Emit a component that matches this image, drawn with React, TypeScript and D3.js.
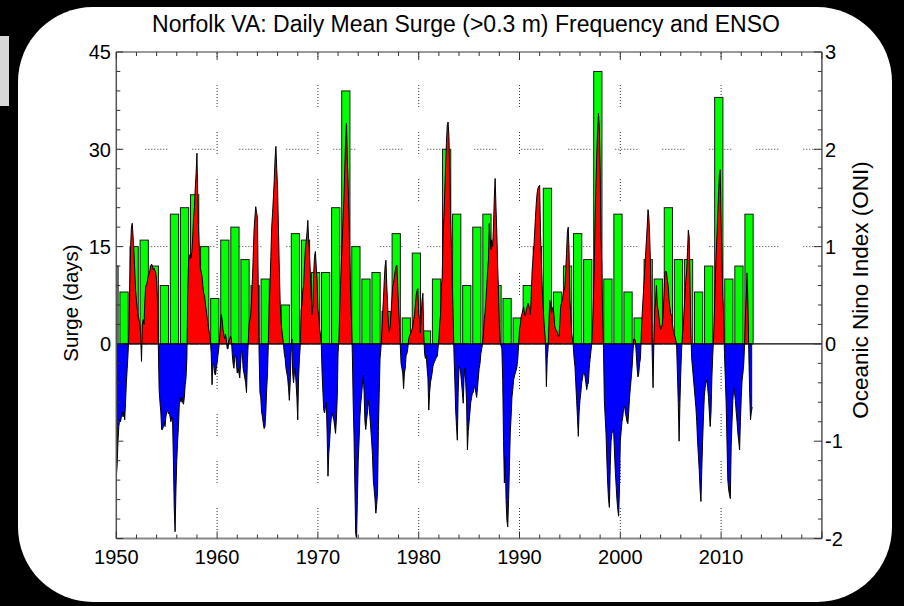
import React from 'react';
import * as d3 from 'd3';

// Annual surge days (>0.3 m daily mean), one bar per year
const surgeFirstYear = 1950;
const surgeDays = [
  12, 8, 15, 16, 12, 9, 20, 21, 23, 15,
  7, 16, 18, 13, 9, 10, 7, 6, 17, 16,
  11, 11, 21, 39, 15, 10, 11, 5, 17, 4,
  14, 2, 10, 30, 20, 9, 18, 20, 9, 7,
  4, 9, 15, 24, 8, 12, 17, 13, 42, 10,
  20, 8, 4, 13, 10, 21, 13, 13, 8, 12,
  38, 10, 12, 20,
];

// Monthly ONI values, starting January 1950
const oniStartYear = 1950;
const oni1950s = [
  -1.36, -1.25, -1.0, -0.85, -0.78, -0.8, -0.75, -0.7, -0.75, -0.7, -0.78, -0.6,
  -0.4, -0.25, -0.1, 0.1, 0.6, 1.0, 1.2, 1.24, 1.1, 0.95, 0.75, 0.55,
  0.45, 0.35, 0.28, 0.25, 0.2, 0.1, -0.18, 0.2, 0.25, 0.2, 0.45, 0.6,
  0.6, 0.65, 0.7, 0.72, 0.75, 0.8, 0.82, 0.8, 0.76, 0.78, 0.75, 0.73,
  0.65, 0.45, 0.0, -0.47, -0.6, -0.7, -0.88, -0.88, -0.85, -0.8, -0.85, -0.75,
  -0.7, -0.68, -0.72, -0.7, -0.75, -0.8, -0.75, -0.8, -1.2, -1.7, -1.93, -1.5,
  -1.2, -1.0, -0.85, -0.62, -0.55, -0.6, -0.55, -0.6, -0.62, -0.55, -0.42, -0.35,
  -0.15, 0.5, 0.85, 0.9, 0.92, 0.88, 0.95, 1.1, 1.3, 1.4, 1.6, 1.75,
  1.96, 1.5, 1.15, 0.95, 0.78, 0.74, 0.7, 0.6, 0.52, 0.5, 0.42, 0.35,
  0.28, 0.22, 0.15, 0.1, 0.03, -0.1, -0.42, -0.2, -0.22, -0.3, -0.32, -0.25,
];
const oni1960s = [
  -0.2, -0.12, -0.05, 0.05, 0.2, 0.3, 0.25, 0.15, 0.1, 0.05, 0.1, 0.05,
  -0.05, -0.05, 0.03, 0.05, 0.08, 0.05, -0.1, -0.2, -0.25, -0.15, -0.1, -0.2,
  -0.3, -0.25, -0.3, -0.35, -0.2, -0.05, -0.1, -0.25, -0.3, -0.35, -0.4, -0.5,
  -0.2, 0.0, 0.2, 0.25, 0.3, 0.45, 0.66, 0.9, 1.17, 1.3, 1.41, 1.35,
  1.3, 0.6, -0.1, -0.5, -0.55, -0.7, -0.75, -0.82, -0.87, -0.85, -0.7, -0.47,
  -0.3, 0.0, 0.4, 0.6, 0.9, 1.2, 1.34, 1.5, 1.68, 1.9, 2.03, 1.8,
  1.6, 1.2, 0.8, 0.45, 0.25, 0.15, 0.08, 0.0, -0.1, -0.15, -0.25, -0.3,
  -0.35, -0.45, -0.58, -0.4, -0.1, 0.05, -0.3, -0.4, -0.3, -0.25, -0.4, -0.55,
  -0.78, -0.35, -0.15, -0.02, 0.35, 0.4, 0.55, 0.6, 0.8, 0.97, 1.05, 1.14,
  1.27, 1.07, 0.9, 0.73, 0.5, 0.3, 0.4, 0.73, 0.9, 0.95, 0.8, 0.66,
];
const oni1970s = [
  0.35, 0.3, 0.15, 0.1, 0.0, -0.3, -0.5, -0.68, -0.71, -0.65, -0.6, -0.92,
  -1.36, -1.12, -1.0, -0.85, -0.75, -0.71, -0.75, -0.78, -0.85, -0.92, -0.78, -0.55,
  -0.1, 0.05, 0.35, 0.6, 0.85, 1.07, 1.3, 1.5, 1.8, 2.1, 2.27, 1.9,
  1.65, 1.3, 0.9, 0.5, 0.2, -0.1, -0.6, -0.95, -1.45, -1.95, -2.0, -1.6,
  -1.2, -1.0, -0.75, -0.62, -0.52, -0.42, -0.32, -0.5, -0.8, -0.88, -0.78, -0.7,
  -0.58, -0.65, -0.75, -0.88, -1.0, -1.15, -1.4, -1.5, -1.6, -1.74, -1.65, -1.53,
  -0.9, -0.5, -0.15, -0.05, 0.1, 0.3, 0.45, 0.65, 0.8, 0.86, 0.6, 0.4,
  0.2, 0.12, 0.18, 0.3, 0.45, 0.59, 0.62, 0.69, 0.75, 0.8, 0.81, 0.59,
  0.38, 0.2, 0.0, -0.2, -0.25, -0.3, -0.46, -0.3, -0.25, -0.12, -0.1, -0.05,
  0.04, 0.08, 0.1, 0.12, 0.15, 0.18, 0.25, 0.3, 0.4, 0.5, 0.55, 0.57,
];
const oni1980s = [
  0.31, 0.25, 0.11, 0.31, 0.45, 0.52, 0.1, -0.1, -0.15, -0.12, -0.25, -0.35,
  -0.68, -0.5, -0.4, -0.35, -0.3, -0.23, -0.2, -0.18, -0.16, -0.14, -0.13, -0.05,
  0.05, 0.2, 0.3, 0.59, 0.69, 1.1, 1.31, 1.55, 1.82, 2.06, 2.25, 2.28,
  2.13, 1.72, 1.31, 0.97, 0.62, 0.3, -0.1, -0.37, -0.68, -0.85, -0.99, -0.5,
  -0.23, -0.25, -0.3, -0.4, -0.5, -0.61, -0.35, -0.25, -0.4, -0.6, -1.09, -0.9,
  -0.8, -0.7, -0.6, -0.55, -0.5, -0.5, -0.45, -0.44, -0.5, -0.55, -0.45, -0.35,
  -0.25, -0.2, -0.1, -0.05, 0.0, 0.1, 0.25, 0.32, 0.45, 0.59, 0.75, 0.86,
  1.24, 1.1, 0.97, 1.07, 1.0, 1.2, 1.5, 1.7, 1.41, 1.14, 0.8, 0.55,
  0.2, 0.02, -0.02, -0.05, -0.37, -0.99, -1.43, -1.16, -1.6, -1.81, -1.88, -1.6,
  -1.26, -0.92, -0.75, -0.55, -0.47, -0.37, -0.33, -0.3, -0.27, -0.23, -0.15, 0.0,
];
const oni1990s = [
  0.15, 0.2, 0.28, 0.31, 0.35, 0.38, 0.3, 0.28, 0.35, 0.38, 0.42, 0.4,
  0.35, 0.3, 0.49, 0.75, 0.86, 0.97, 1.14, 1.3, 1.45, 1.55, 1.6, 1.62,
  1.63, 1.14, 0.85, 0.6, 0.4, 0.25, 0.12, 0.02, -0.44, -0.15, -0.05, 0.2,
  0.45, 0.4, 0.31, 0.35, 0.38, 0.3, 0.18, 0.15, 0.14, 0.12, 0.08, 0.08,
  0.2, 0.38, 0.42, 0.45, 0.52, 0.55, 0.59, 0.75, 0.93, 1.15, 1.2, 0.95,
  0.45, 0.3, 0.11, 0.05, -0.02, -0.15, -0.23, -0.4, -0.58, -0.75, -0.95, -0.7,
  -0.58, -0.5, -0.4, -0.35, -0.3, -0.3, -0.33, -0.4, -0.47, -0.42, -0.4, -0.25,
  -0.16, -0.08, 0.0, 0.18, 0.45, 0.8, 1.3, 1.65, 1.95, 2.2, 2.37, 2.23,
  1.82, 1.1, 0.79, 0.28, -0.05, -0.58, -0.75, -0.92, -1.2, -1.43, -1.6, -1.68,
  -1.26, -1.0, -0.92, -0.9, -0.88, -1.09, -1.3, -1.45, -1.6, -1.7, -1.77, -1.5,
];
const oni2000s = [
  -1.0, -0.9, -0.8, -0.75, -0.65, -0.64, -0.7, -0.75, -0.8, -0.82, -0.7, -0.55,
  -0.45, -0.35, -0.25, -0.1, 0.05, 0.05, 0.03, -0.1, -0.25, -0.34, -0.3, -0.2,
  -0.15, 0.1, 0.3, 0.45, 0.6, 0.75, 0.9, 1.05, 1.2, 1.38, 1.3, 1.1,
  0.8, 0.3, -0.1, -0.45, 0.05, 0.35, 0.45, 0.6, 0.4, 0.35, 0.28, 0.2,
  0.15, 0.17, 0.2, 0.3, 0.5, 0.73, 0.75, 0.74, 0.65, 0.6, 0.45, 0.38,
  0.3, 0.3, 0.2, 0.15, 0.1, 0.08, 0.04, 0.0, -0.3, -0.6, -1.0, -0.6,
  -0.3, -0.05, 0.1, 0.18, 0.35, 0.49, 0.65, 0.75, 0.95, 1.17, 1.1, 0.6,
  0.1, -0.15, -0.25, -0.35, -0.45, -0.55, -0.65, -0.8, -1.0, -1.15, -1.3, -1.5,
  -1.62, -1.3, -1.0, -0.75, -0.54, -0.45, -0.4, -0.37, -0.45, -0.55, -0.7, -0.85,
  -0.7, -0.35, -0.13, 0.05, 0.32, 0.6, 0.9, 1.1, 1.34, 1.55, 1.75, 1.79,
];
const oni2010s = [
  1.25, 0.9, 0.5, 0.3, -0.1, -0.35, -0.6, -1.0, -1.4, -1.5, -1.55, -1.59,
  -1.05, -0.8, -0.58, -0.45, -0.5, -0.58, -0.7, -0.8, -0.92, -1.0, -1.09, -0.8,
  -0.55, -0.37, -0.3, -0.2, 0.0, 0.3, 0.5, 0.73, 0.4, -0.1, -0.5, -0.78,
  -0.7, -0.65,
];

const leftTickLabels = [0, 15, 30, 45];
const rightTickLabels = [-2, -1, 0, 1, 2, 3];
const decadeLabels = [1950, 1960, 1970, 1980, 1990, 2000, 2010];
const gridDays = [15, 30];
const titleText = 'Norfolk VA: Daily Mean Surge (>0.3 m) Frequency and ENSO';
const leftAxisTitle = 'Surge (days)';
const rightAxisTitle = 'Oceanic Nino Index (ONI)';

const W = 904;
const H = 606;
const PL = 116.3;
const PR = 821.9;
const PT = 52;
const PB = 538.5;
const FONT = "'Liberation Sans', Arial, Helvetica, sans-serif";
const GRID_DASH = '1,2,1,2,1,2,1,2,1,2,1,2,1,2,1,25';

export default function App() {
  const x = d3.scaleLinear().domain([1950, 2020]).range([PL, PR]);
  const yDays = d3.scaleLinear().domain([-30, 45]).range([PB, PT]);
  const yOni = d3.scaleLinear().domain([-2, 3]).range([PB, PT]);

  const oniValues = [...oni1950s, ...oni1960s, ...oni1970s, ...oni1980s, ...oni1990s, ...oni2000s, ...oni2010s];
  const oni = oniValues.map((v, i) => ({ t: oniStartYear + i / 12, v }));

  const area = d3
    .area<{ t: number; v: number }>()
    .x((d) => x(d.t))
    .y0(yOni(0))
    .y1((d) => yOni(d.v));
  const line = d3
    .line<{ t: number; v: number }>()
    .x((d) => x(d.t))
    .y((d) => yOni(d.v));

  const bars = surgeDays.map((v, i) => {
    const c = surgeFirstYear + i - 0.23;
    const x0 = x(c - 0.41);
    const x1 = x(c + 0.41);
    return { x0, x1, y: yDays(v), y0: yDays(0) };
  });

  const minorYears = d3.range(1950, 2021, 2);
  const minorDays = d3.range(-30, 46, 3);
  const minorOni = d3.range(-2, 3.001, 0.2);
  const zeroY = yOni(0);

  return (
    <div style={{ position: 'fixed', left: 0, top: 0, width: W, height: H, background: '#000', margin: 0 }}>
      <svg width={W} height={H} style={{ display: 'block' }}>
        <defs>
          <clipPath id="plotClip">
            <rect x={PL} y={PT} width={PR - PL} height={PB - PT} />
          </clipPath>
          <clipPath id="posClip">
            <rect x={PL} y={PT} width={PR - PL} height={zeroY - PT} />
          </clipPath>
          <clipPath id="negClip">
            <rect x={PL} y={zeroY} width={PR - PL} height={PB - zeroY} />
          </clipPath>
        </defs>
        <rect x={0} y={0} width={W} height={H} fill="#000" />
        <rect x={0} y={36} width={9} height={70} fill="#d8d8d8" />
        <rect x={18} y={7} width={874} height={595} rx={75} ry={75} fill="#fff" />

        {/* grid */}
        <g stroke="#333" strokeWidth={1} strokeDasharray={GRID_DASH} fill="none">
          {decadeLabels.slice(1).map((yr) => (
            <line key={'gv' + yr} x1={x(yr)} x2={x(yr)} y1={PT} y2={PB} strokeDashoffset={-33} />
          ))}
          {gridDays.map((d) => (
            <line key={'gh' + d} x1={PL} x2={PR} y1={yDays(d)} y2={yDays(d)} strokeDashoffset={-29} />
          ))}
        </g>

        {/* bars */}
        <g clipPath="url(#plotClip)">
          {bars.map((b, i) => (
            <rect
              key={'b' + i}
              x={b.x0}
              y={b.y}
              width={b.x1 - b.x0}
              height={b.y0 - b.y}
              fill="#00ff00"
              stroke="#1a1a1a"
              strokeWidth={1}
            />
          ))}
        </g>

        {/* ONI */}
        <g clipPath="url(#plotClip)">
          <path d={area(oni) || ''} fill="#ff0000" clipPath="url(#posClip)" />
          <path d={area(oni) || ''} fill="#0000ff" clipPath="url(#negClip)" />
          <path d={line(oni) || ''} fill="none" stroke="#000" strokeWidth={1} />
        </g>

        {/* zero line */}
        <line x1={PL} x2={PR} y1={zeroY} y2={zeroY} stroke="#000" strokeWidth={1.3} />

        {/* frame */}
        <g fill="none">
          <line x1={PL} x2={PR} y1={PT} y2={PT} stroke="#777" strokeWidth={1.5} />
          <line x1={PL} x2={PR} y1={PB} y2={PB} stroke="#888" strokeWidth={2} />
          <line x1={PL} x2={PL} y1={PT} y2={PB} stroke="#555" strokeWidth={1.5} />
          <line x1={PR} x2={PR} y1={PT} y2={PB} stroke="#555" strokeWidth={1.5} />
        </g>

        {/* ticks */}
        <g stroke="#333" strokeWidth={1}>
          {minorYears.map((yr) => {
            const major = yr % 10 === 0;
            const len = major ? 7 : 4;
            return (
              <g key={'tx' + yr}>
                <line x1={x(yr)} x2={x(yr)} y1={PT} y2={PT + len} />
                <line x1={x(yr)} x2={x(yr)} y1={PB} y2={PB - len} />
              </g>
            );
          })}
          {minorDays.map((d) => {
            const major = d % 15 === 0;
            return <line key={'tl' + d} x1={PL} x2={PL + (major ? 7 : 4)} y1={yDays(d)} y2={yDays(d)} />;
          })}
          {minorOni.map((v, i) => {
            const major = Math.abs(v - Math.round(v)) < 1e-6;
            return <line key={'tr' + i} x1={PR} x2={PR - (major ? 8 : 4)} y1={yOni(v)} y2={yOni(v)} />;
          })}
        </g>

        {/* labels */}
        <g fontFamily={FONT} fill="#000">
          <text x={466} y={32} fontSize={23} textAnchor="middle">
            {titleText}
          </text>
          {leftTickLabels.map((d) => (
            <text key={'ll' + d} x={111} y={yDays(d)} dy="0.36em" fontSize={20} textAnchor="end">
              {d}
            </text>
          ))}
          {rightTickLabels.map((v) => (
            <text key={'rl' + v} x={825} y={yOni(v)} dy="0.36em" fontSize={20} textAnchor="start">
              {v < 0 ? '-' + Math.abs(v) : String(v)}
            </text>
          ))}
          {decadeLabels.map((yr) => (
            <text key={'xl' + yr} x={x(yr)} y={564} fontSize={20} textAnchor="middle">
              {yr}
            </text>
          ))}
          <text
            transform={`translate(78,303) rotate(-90)`}
            fontSize={20.5}
            textAnchor="middle"
          >
            {leftAxisTitle}
          </text>
          <text
            transform={`translate(868,290) rotate(-90)`}
            fontSize={22.5}
            textAnchor="middle"
          >
            {rightAxisTitle}
          </text>
        </g>
      </svg>
    </div>
  );
}
